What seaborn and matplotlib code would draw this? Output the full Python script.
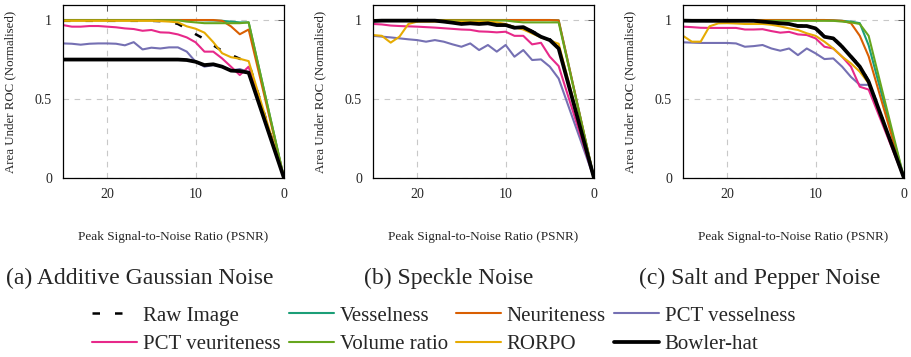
import seaborn as sns
import matplotlib
matplotlib.use("Agg")
import matplotlib.pyplot as plt

# PSNR sample points (25 ... 4, then 0)
psnr = [25, 24, 23, 22, 21, 20, 19, 18, 17, 16, 15, 14, 13, 12, 11, 10, 9, 8, 7, 6, 5, 4, 0]

methods = ["Raw Image", "Vesselness", "Neuriteness", "PCT vesselness",
           "PCT veuriteness", "Volume ratio", "RORPO", "Bowler-hat"]

# (a) Additive Gaussian Noise
gauss_raw = [0.995, 0.995, 0.995, 0.995, 0.995, 0.995, 0.995, 0.995, 0.995, 0.995, 0.995, 0.993, 0.99,
             0.975, 0.945, 0.91, 0.88, 0.84, 0.805, 0.78, 0.755, 0.73, 0.0]
gauss_vess = [1.0, 1.0, 1.0, 1.0, 1.0, 1.0, 1.0, 1.0, 1.0, 1.0, 1.0, 1.0, 1.0,
              1.0, 1.0, 1.0, 0.998, 0.997, 0.995, 0.99, 0.985, 0.985, 0.0]
gauss_neur = [1.0, 1.0, 1.0, 1.0, 1.0, 1.0, 1.0, 1.0, 1.0, 1.0, 1.0, 1.0, 1.0,
              1.0, 1.0, 1.0, 1.0, 1.0, 0.995, 0.96, 0.91, 0.94, 0.0]
gauss_pctv = [0.852, 0.85, 0.844, 0.85, 0.852, 0.852, 0.85, 0.84, 0.86, 0.814, 0.825, 0.82, 0.827,
              0.827, 0.8, 0.736, 0.705, 0.715, 0.705, 0.68, 0.69, 0.67, 0.0]
gauss_pctn = [0.968, 0.958, 0.958, 0.962, 0.962, 0.958, 0.954, 0.947, 0.943, 0.932, 0.937, 0.922, 0.92,
              0.909, 0.89, 0.859, 0.8, 0.8, 0.757, 0.705, 0.652, 0.705, 0.0]
gauss_vol = [0.998, 0.998, 0.998, 0.998, 0.998, 0.998, 0.998, 0.998, 0.998, 0.998, 0.998, 0.998, 0.998,
             0.998, 0.99, 0.985, 0.98, 0.98, 0.98, 0.98, 0.98, 0.985, 0.0]
gauss_rorpo = [0.995, 0.995, 0.995, 0.995, 0.995, 0.995, 0.995, 0.995, 0.995, 0.995, 0.995, 0.993, 0.99,
               0.985, 0.96, 0.945, 0.92, 0.86, 0.79, 0.765, 0.755, 0.74, 0.0]
gauss_bowler = [0.75, 0.75, 0.75, 0.75, 0.75, 0.75, 0.75, 0.75, 0.75, 0.75, 0.75, 0.75, 0.75,
                0.75, 0.747, 0.736, 0.715, 0.72, 0.705, 0.68, 0.677, 0.667, 0.0]

# (b) Speckle Noise
speck_raw = [0.995, 0.996, 0.996, 0.996, 0.996, 0.996, 0.996, 0.996, 0.99, 0.985, 0.978, 0.98, 0.977,
             0.98, 0.97, 0.97, 0.955, 0.957, 0.93, 0.9, 0.878, 0.83, 0.0]
speck_vess = [1.0, 1.0, 1.0, 1.0, 1.0, 1.0, 1.0, 1.0, 1.0, 1.0, 1.0, 1.0, 1.0,
              1.0, 1.0, 1.0, 1.0, 1.0, 1.0, 1.0, 1.0, 0.998, 0.0]
speck_neur = [1.0, 1.0, 1.0, 1.0, 1.0, 1.0, 1.0, 1.0, 1.0, 1.0, 1.0, 1.0, 1.0,
              1.0, 1.0, 1.0, 1.0, 1.0, 1.0, 1.0, 1.0, 0.998, 0.0]
speck_pctv = [0.9, 0.895, 0.89, 0.884, 0.878, 0.873, 0.863, 0.873, 0.863, 0.846, 0.831, 0.852, 0.81,
              0.842, 0.8, 0.842, 0.768, 0.81, 0.747, 0.751, 0.705, 0.63, 0.0]
speck_pctn = [0.975, 0.972, 0.965, 0.962, 0.96, 0.958, 0.955, 0.952, 0.948, 0.944, 0.94, 0.938, 0.928,
              0.926, 0.922, 0.926, 0.9, 0.9, 0.846, 0.856, 0.768, 0.709, 0.0]
speck_vol = [0.997, 0.997, 0.997, 0.997, 0.997, 0.997, 0.997, 0.997, 0.997, 0.997, 0.997, 0.997, 0.997,
             0.997, 0.997, 0.997, 0.99, 0.985, 0.985, 0.985, 0.985, 0.985, 0.0]
speck_rorpo = [0.905, 0.9, 0.857, 0.895, 0.975, 0.99, 0.99, 0.99, 0.99, 0.99, 0.99, 0.99, 0.99,
               0.99, 0.985, 0.975, 0.955, 0.94, 0.915, 0.89, 0.87, 0.85, 0.0]
speck_bowler = [0.994, 0.996, 0.996, 0.996, 0.996, 0.996, 0.996, 0.996, 0.99, 0.983, 0.975, 0.979, 0.975,
                0.979, 0.968, 0.968, 0.951, 0.955, 0.926, 0.894, 0.873, 0.82, 0.0]

# (c) Salt and Pepper Noise
salt_raw = [0.996, 0.995, 0.995, 0.995, 0.995, 0.995, 0.995, 0.995, 0.995, 0.99, 0.985, 0.98, 0.977,
            0.965, 0.963, 0.95, 0.9, 0.888, 0.835, 0.772, 0.71, 0.615, 0.0]
salt_vess = [1.0, 1.0, 1.0, 1.0, 1.0, 1.0, 1.0, 1.0, 1.0, 1.0, 1.0, 1.0, 1.0,
             1.0, 1.0, 1.0, 1.0, 0.998, 0.995, 0.99, 0.98, 0.84, 0.0]
salt_neur = [1.0, 1.0, 1.0, 1.0, 1.0, 1.0, 1.0, 1.0, 1.0, 1.0, 1.0, 1.0, 1.0,
             1.0, 1.0, 1.0, 1.0, 0.998, 0.995, 0.98, 0.9, 0.77, 0.0]
salt_pctv = [0.859, 0.857, 0.855, 0.855, 0.855, 0.855, 0.852, 0.831, 0.835, 0.842, 0.82, 0.806, 0.82,
             0.778, 0.82, 0.789, 0.753, 0.757, 0.705, 0.64, 0.59, 0.59, 0.0]
salt_pctn = [0.958, 0.955, 0.951, 0.95, 0.95, 0.95, 0.95, 0.94, 0.94, 0.942, 0.93, 0.92, 0.925,
             0.909, 0.905, 0.884, 0.831, 0.82, 0.768, 0.705, 0.578, 0.56, 0.0]
salt_vol = [0.995, 0.995, 0.995, 0.995, 0.995, 0.995, 0.995, 0.995, 0.995, 0.995, 0.995, 0.995, 0.995,
            0.995, 0.995, 0.995, 0.995, 0.995, 0.99, 0.985, 0.975, 0.9, 0.0]
salt_rorpo = [0.9, 0.863, 0.863, 0.96, 0.979, 0.98, 0.978, 0.975, 0.975, 0.975, 0.97, 0.96, 0.947,
              0.937, 0.916, 0.9, 0.863, 0.82, 0.768, 0.726, 0.673, 0.6, 0.0]
salt_bowler = [0.996, 0.995, 0.995, 0.995, 0.995, 0.995, 0.995, 0.995, 0.995, 0.99, 0.985, 0.979, 0.975,
               0.962, 0.962, 0.947, 0.894, 0.884, 0.831, 0.768, 0.705, 0.61, 0.0]

panels = [
    ("(a) Additive Gaussian Noise",
     [gauss_raw, gauss_vess, gauss_neur, gauss_pctv, gauss_pctn, gauss_vol, gauss_rorpo, gauss_bowler]),
    ("(b) Speckle Noise",
     [speck_raw, speck_vess, speck_neur, speck_pctv, speck_pctn, speck_vol, speck_rorpo, speck_bowler]),
    ("(c) Salt and Pepper Noise",
     [salt_raw, salt_vess, salt_neur, salt_pctv, salt_pctn, salt_vol, salt_rorpo, salt_bowler]),
]

sns.set_style("white")
plt.rcParams['font.family'] = ['Liberation Serif', 'DejaVu Serif']

dark2 = sns.color_palette("Dark2")
colors = ["black", dark2[0], dark2[1], dark2[2], dark2[3], dark2[4], dark2[5], "black"]
widths = [1.8, 1.5, 1.5, 1.5, 1.5, 1.5, 1.5, 2.7]
styles = [(0, (3, 6)), "-", "-", "-", "-", "-", "-", "-"]

fig = plt.figure(figsize=(9.11, 3.57), dpi=100)
lefts = [63 / 911, 373 / 911, 683 / 911]
caption_x = [140 / 911, 449 / 911, 760 / 911]

for i, (caption, series) in enumerate(panels):
    ax = fig.add_axes([lefts[i], 0.501, 0.2426, 0.485])
    for name, vals, c, w, ls in zip(methods, series, colors, widths, styles):
        sns.lineplot(x=psnr, y=vals, ax=ax, color=c, lw=w, linestyle=ls,
                     label=name, legend=False, sort=False)
    ax.set_xlim(25, 0)
    ax.set_ylim(0, 1.095)
    ax.set_xticks([20, 10, 0])
    ax.set_yticks([0, 0.5, 1])
    ax.set_yticklabels(["0", "0.5", "1"])
    ax.grid(True, linestyle=(0, (5, 5)), color="#c8c8c8", lw=0.8)
    ax.tick_params(direction="in", top=True, right=True, length=4, width=0.6,
                   color="#444444", labelsize=10)
    ax.tick_params(axis="y", pad=8)
    ax.tick_params(axis="x", pad=7)
    for sp in ax.spines.values():
        sp.set_color("black")
        sp.set_linewidth(0.9)
    ax.set_xlabel("Peak Signal-to-Noise Ratio (PSNR)", fontsize=9.5, labelpad=22)
    ax.set_ylabel("Area Under ROC (Normalised)", fontsize=9.3, labelpad=13)
    fig.text(caption_x[i], 1 - 278 / 357, caption, ha="center", va="center", fontsize=17)
    if i == 0:
        handles, labels = ax.get_legend_handles_labels()

# row-major order in a 4-column legend
order = [0, 4, 1, 5, 2, 6, 3, 7]
fig.legend([handles[k] for k in order], [labels[k] for k in order],
           loc="upper left", bbox_to_anchor=(92 / 911, 1 - 306 / 357),
           ncol=4, frameon=False, fontsize=15, handlelength=2.16,
           handletextpad=0.29, columnspacing=0.38, labelspacing=0.43,
           borderpad=0, borderaxespad=0)

fig.savefig("out.png", dpi=100)
